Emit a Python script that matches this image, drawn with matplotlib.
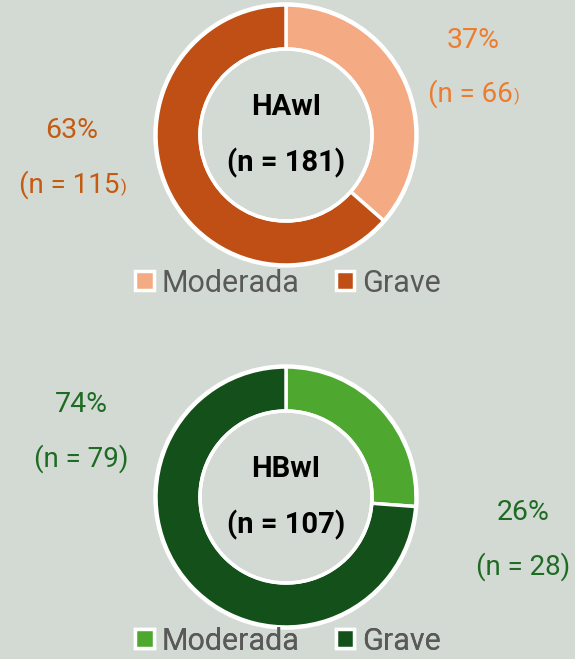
import matplotlib.pyplot as plt
from matplotlib.patches import Patch

plt.rcParams['font.family'] = ['Roboto', 'DejaVu Sans']

groups = ["HAwI", "HBwI"]
totals = [181, 107]
categories = ["Moderada", "Grave"]
moderada_n = [66, 28]
grave_n = [115, 79]
moderada_pct = [37, 26]
grave_pct = [63, 74]

bg = "#d3dad3"
light = ["#f4ab84", "#4ea72e"]
dark = ["#c04f15", "#145019"]
lab_light = ["#ec7c30", "#1e6b24"]
lab_dark = ["#c55a11", "#1e6b24"]
small_paren = [True, False]

W, H = 575, 659
fig = plt.figure(figsize=(W / 100, H / 100), dpi=100, facecolor=bg)
ax = fig.add_axes([0, 0, 1, 1])
ax.set_facecolor(bg)

# layout in pixels (y from the top)
centers = [(286, 135), (286, 497)]
mod_lab = [(473, 40), (523, 513)]
grv_lab = [(72, 131), (81, 405)]
leg_y = [283, 641]


def Y(y):
    return H - y


def label(x, y, pct, n, color, small):
    ax.text(x, Y(y), f"{pct}%", ha="center", va="center", fontsize=20.5, color=color)
    if small:
        t = ax.text(x - 3, Y(y + 54), f"(n = {n}", ha="center", va="center", fontsize=20, color=color)
        ax.annotate(")", xy=(1, 0.12), xycoords=t, xytext=(1, 0), textcoords="offset points",
                    ha="left", va="bottom", fontsize=12, color=color)
    else:
        ax.text(x, Y(y + 54), f"(n = {n})", ha="center", va="center", fontsize=20, color=color)


for i, g in enumerate(groups):
    cx, cy = centers[i]
    ax.pie([moderada_n[i], grave_n[i]], colors=[light[i], dark[i]], startangle=90,
           counterclock=False, center=(cx, Y(cy)), radius=130, frame=True,
           wedgeprops=dict(width=44, edgecolor="white", linewidth=2.5))
    # white rim inside and outside
    ax.add_patch(plt.Circle((cx, Y(cy)), 131, fill=False, ec="white", lw=2.5))
    ax.add_patch(plt.Circle((cx, Y(cy)), 86, fill=False, ec="white", lw=2.5))
    ax.text(cx, Y(cy - 28), g, ha="center", va="center", fontsize=21, fontweight="bold", color="black")
    ax.text(cx, Y(cy + 28), f"(n = {totals[i]})", ha="center", va="center", fontsize=21,
            fontweight="bold", color="black")
    label(*mod_lab[i], moderada_pct[i], moderada_n[i], lab_light[i], small_paren[i])
    label(*grv_lab[i], grave_pct[i], grave_n[i], lab_dark[i], small_paren[i])

    handles = [Patch(facecolor=light[i], edgecolor="white", linewidth=2.5),
               Patch(facecolor=dark[i], edgecolor="white", linewidth=2.5)]
    ax.legend(handles, categories, loc="center", bbox_to_anchor=(288 / W, 1 - leg_y[i] / H),
              ncol=2, frameon=False, fontsize=22, labelcolor="#595959",
              handlelength=0.6, handleheight=0.6, handletextpad=0.25, columnspacing=1.2,
              borderaxespad=0, borderpad=0)
    ax.add_artist(ax.get_legend())

ax.set_xlim(0, W)
ax.set_ylim(0, H)
ax.set_aspect("equal")
ax.axis("off")

fig.savefig("out.png", dpi=100, facecolor=bg)
